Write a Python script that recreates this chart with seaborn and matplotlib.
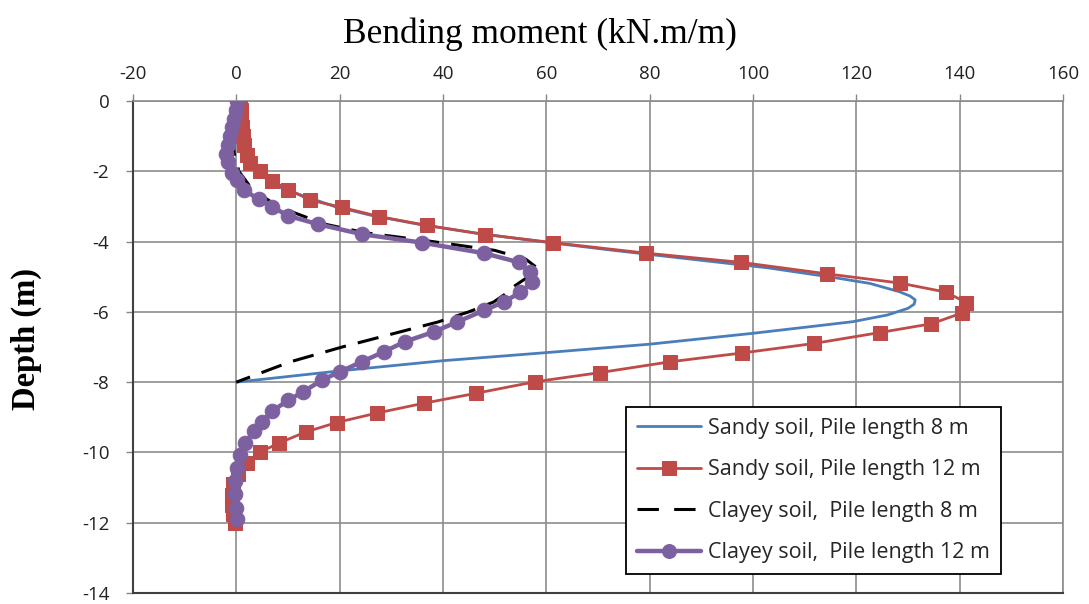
import numpy as np
import pandas as pd
import matplotlib
matplotlib.use("Agg")
import matplotlib.pyplot as plt
import seaborn as sns

# ---------------- data ----------------
sandy8_depth = [0, -0.5, -1.0, -1.5, -2.0, -2.5, -3.0, -3.25, -3.5, -3.75, -4.0, -4.25,
                -4.5, -4.75, -5.02, -5.19, -5.43, -5.55, -5.66, -5.78, -5.9, -6.09,
                -6.28, -6.44, -6.61, -6.92, -7.16, -7.39, -7.68, -8.0]
sandy8_moment = [0, 0.3, 0.6, 1.5, 3.5, 9, 19, 26, 35, 46, 59, 73,
                 88, 103, 115.5, 122.6, 128.4, 130.4, 131.4, 131.2, 130.0, 126.0,
                 119.3, 110, 100, 80, 60, 40, 20, 0]

sandy12_depth = [0, -0.25, -0.5, -0.75, -1.0, -1.24, -1.53, -1.76, -2.0, -2.28, -2.52,
                 -2.82, -3.03, -3.29, -3.54, -3.80, -4.03, -4.33, -4.59, -4.92, -5.18,
                 -5.44, -5.74, -6.03, -6.34, -6.59, -6.90, -7.17, -7.42, -7.73, -7.99,
                 -8.32, -8.60, -8.88, -9.15, -9.42, -9.73, -10.0, -10.3, -10.6, -10.9,
                 -11.2, -11.5, -11.75, -12.0]
sandy12_moment = [0.8, 0.9, 1.0, 1.1, 1.2, 1.4, 2.1, 2.7, 4.5, 6.9, 10.1,
                  14.3, 20.5, 27.7, 36.9, 48.1, 61.3, 79.3, 97.6, 114.4, 128.4,
                  137.4, 141.3, 140.5, 134.5, 124.5, 111.8, 97.9, 84.0, 70.3, 57.8,
                  46.3, 36.3, 27.2, 19.4, 13.4, 8.3, 4.5, 2.1, 0.4, -0.6,
                  -0.9, -0.9, -0.6, -0.3]

clay8_depth = [0, -0.5, -1.0, -1.5, -2.0, -2.5, -3.0, -3.5, -3.75, -4.0, -4.25, -4.5,
               -4.78, -5.0, -5.25, -5.5, -5.72, -6.0, -6.29, -6.57, -7.0, -7.42, -8.0]
clay8_moment = [0, -0.3, -0.6, -0.4, 0.5, 3, 8, 17, 25, 38, 50, 56,
                58.5, 56.5, 54, 52, 49.8, 45, 39, 31.7, 20.5, 10.5, 0]

clay12_depth = [0, -0.25, -0.5, -0.75, -1.0, -1.25, -1.5, -1.75, -2.05, -2.25, -2.52,
                -2.80, -3.01, -3.27, -3.51, -3.79, -4.03, -4.33, -4.59, -4.88, -5.16,
                -5.44, -5.72, -5.96, -6.29, -6.57, -6.85, -7.14, -7.42, -7.70, -7.94,
                -8.27, -8.51, -8.83, -9.12, -9.40, -9.73, -10.06, -10.44, -10.81,
                -11.19, -11.57, -11.9]
clay12_moment = [0.1, -0.1, -0.4, -0.8, -1.3, -1.7, -1.9, -1.6, -0.8, 0.2, 1.4,
                 4.3, 6.9, 10.1, 15.9, 24.3, 35.9, 47.9, 54.7, 56.9, 57.2,
                 55.0, 51.8, 47.9, 42.7, 38.2, 32.6, 28.5, 24.3, 20.1, 16.6,
                 13.0, 10.1, 6.9, 5.0, 3.4, 1.7, 0.8, 0.1, -0.2,
                 -0.2, 0.0, 0.1]

series_labels = ["Sandy soil, Pile length 8 m", "Sandy soil, Pile length 12 m",
                 "Clayey soil,  Pile length 8 m", "Clayey soil,  Pile length 12 m"]
x_ticks = [-20, 0, 20, 40, 60, 80, 100, 120, 140, 160]
y_ticks = [0, -2, -4, -6, -8, -10, -12, -14]

# ---------------- plot ----------------
sns.set_theme(style="white")
plt.rcParams['font.family'] = ['Open Sans', 'DejaVu Sans']

fig = plt.figure(figsize=(10.89, 6.04), dpi=100)
ax = fig.add_axes([0.1221, 0.0182, 0.854, 0.8146])

blue = "#4A7EBB"
red = "#BE4B48"
purple = "#7D60A0"

sns.lineplot(x=sandy8_moment, y=sandy8_depth, sort=False, estimator=None, ax=ax,
             color=blue, linewidth=2.0, label=series_labels[0], zorder=3)
sns.lineplot(x=sandy12_moment, y=sandy12_depth, sort=False, estimator=None, ax=ax,
             color=red, linewidth=2.0, marker="s", markersize=10.5, markeredgecolor=red,
             label=series_labels[1], zorder=4)
sns.lineplot(x=clay8_moment, y=clay8_depth, sort=False, estimator=None, ax=ax,
             color="black", linewidth=2.2, dashes=False, label=series_labels[2], zorder=3)
ax.lines[-1].set_dashes([7, 4])
sns.lineplot(x=clay12_moment, y=clay12_depth, sort=False, estimator=None, ax=ax,
             color=purple, linewidth=3.2, marker="o", markersize=10.5, markeredgecolor=purple,
             label=series_labels[3], zorder=5)

ax.set_xlim(-20, 160)
ax.set_ylim(-14, 0)
ax.set_xticks(x_ticks)
ax.set_yticks(y_ticks)
ax.set_xticklabels([str(v) for v in x_ticks])
ax.set_yticklabels([str(v) for v in y_ticks])
ax.xaxis.tick_top()
ax.xaxis.set_label_position("top")
ax.tick_params(axis="x", which="both", top=True, bottom=False, length=5, width=1,
               color="#868686", pad=8, labelsize=13.5, labelcolor="#222222")
ax.tick_params(axis="y", which="both", left=True, length=5, width=1,
               color="#868686", pad=12, labelsize=13.5, labelcolor="#222222")
ax.grid(True, color="#8C8C8C", linewidth=1.2)
ax.set_axisbelow(True)
for side in ["left", "bottom"]:
    ax.spines[side].set_color("#404040")
    ax.spines[side].set_linewidth(1.5)
for side in ["right", "top"]:
    ax.spines[side].set_color("#8C8C8C")
    ax.spines[side].set_linewidth(1.2)

ax.set_xlabel("Bending moment (kN.m/m)", family="Liberation Serif", fontsize=25.5,
              color="black")
ax.xaxis.set_label_coords(0.4376, 1.1185)
ax.set_ylabel("Depth (m)", family="Liberation Serif", fontsize=23.5, fontweight="bold",
              color="black")
ax.yaxis.set_label_coords(-0.098, 0.516)

leg = ax.legend(loc="upper left", bbox_to_anchor=(0.530, 0.378), fontsize=15.5,
                frameon=True, fancybox=False, edgecolor="black", framealpha=1,
                handlelength=3.0, labelspacing=0.95, borderpad=0.5, handletextpad=0.32,
                borderaxespad=0)
leg.get_frame().set_linewidth(1.3)
for h in leg.legend_handles:
    h.set_markersize(10)
leg.legend_handles[2].set_dashes([7, 5])

fig.savefig("out.png", dpi=100)
